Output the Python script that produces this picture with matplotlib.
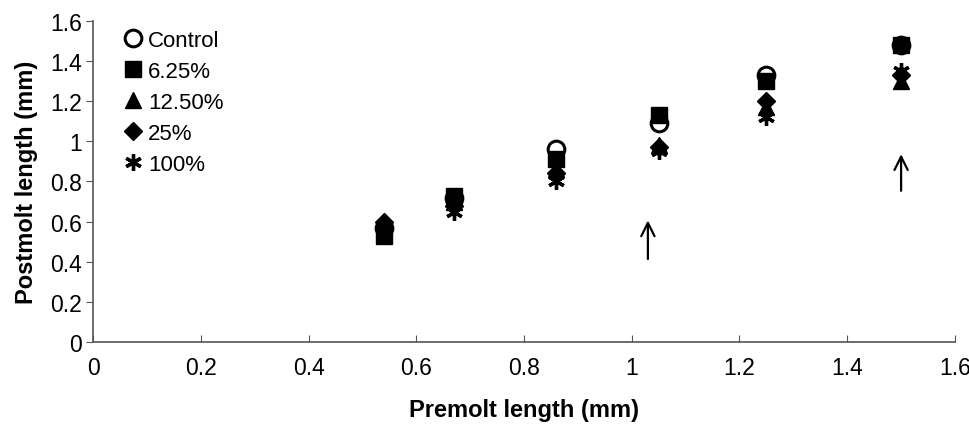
import numpy as np
import matplotlib
matplotlib.use('Agg')
import matplotlib.pyplot as plt

plt.rcParams['font.family'] = ['Liberation Sans', 'DejaVu Sans']

# premolt length for each size class (mm)
premolt = [0.54, 0.67, 0.86, 1.05, 1.25, 1.50]

# postmolt length per treatment (mm)
control = [0.57, 0.72, 0.96, 1.09, 1.33, 1.48]
t625 = [0.53, 0.73, 0.91, 1.13, 1.30, 1.48]
t1250 = [0.57, 0.70, 0.86, 0.98, 1.17, 1.30]
t25 = [0.60, 0.68, 0.84, 0.97, 1.20, 1.33]
t100 = [0.56, 0.65, 0.80, 0.95, 1.12, 1.35]

labels = ['Control', '6.25%', '12.50%', '25%', '100%']

# arrows marking the molt stages
arrow_x = [1.03, 1.50]
arrow_tail = [0.40, 0.74]
arrow_head = [0.62, 0.95]

tick_labels = ['0', '0.2', '0.4', '0.6', '0.8', '1', '1.2', '1.4', '1.6']

fig = plt.figure(figsize=(9.7, 4.27), dpi=100)
ax = fig.add_axes([0.0959, 0.1967, 0.8886, 0.7518])

ms = 12
ax.plot(premolt, control, 'o', mfc='white', mec='black', mew=2.2, ms=ms, label=labels[0], clip_on=False)
ax.plot(premolt, t625, 's', color='black', ms=ms - 1, label=labels[1], clip_on=False)
ax.plot(premolt, t1250, '^', color='black', ms=ms, label=labels[2], clip_on=False)
ax.plot(premolt, t25, 'D', color='black', ms=ms - 2.5, label=labels[3], clip_on=False)
ax.plot(premolt, t100, marker=(6, 2, 0), ls='none', color='black', mew=2.4, ms=ms, label=labels[4], clip_on=False)

for x, y0, y1 in zip(arrow_x, arrow_tail, arrow_head):
    ax.annotate('', xy=(x, y1), xytext=(x, y0),
                arrowprops=dict(arrowstyle='->', color='black', lw=1.6, mutation_scale=24))

ax.set_xlim(0, 1.6)
ax.set_ylim(0, 1.6)
ax.set_xticks(np.arange(0, 1.61, 0.2))
ax.set_yticks(np.arange(0, 1.61, 0.2))
ax.set_xticklabels(tick_labels)
ax.set_yticklabels(tick_labels)

for s in ['top', 'right']:
    ax.spines[s].set_visible(False)
for s in ['left', 'bottom']:
    ax.spines[s].set_color('#555555')
    ax.spines[s].set_linewidth(1.2)

ax.tick_params(axis='y', direction='out', length=5, color='#555555', labelsize=16.5, pad=3)
ax.tick_params(axis='x', direction='in', length=5, color='#555555', labelsize=16.5, pad=10)

ax.set_xlabel('Premolt length (mm)', fontsize=17, fontweight='bold', labelpad=14)
ax.set_ylabel('Postmolt length (mm)', fontsize=17, fontweight='bold', labelpad=9)

ax.legend(loc='upper left', bbox_to_anchor=(0.010, 1.02), frameon=False, fontsize=16,
          handletextpad=0.0, labelspacing=0.45, handlelength=1.4, borderaxespad=0.3)

fig.savefig('out.png', dpi=100)
